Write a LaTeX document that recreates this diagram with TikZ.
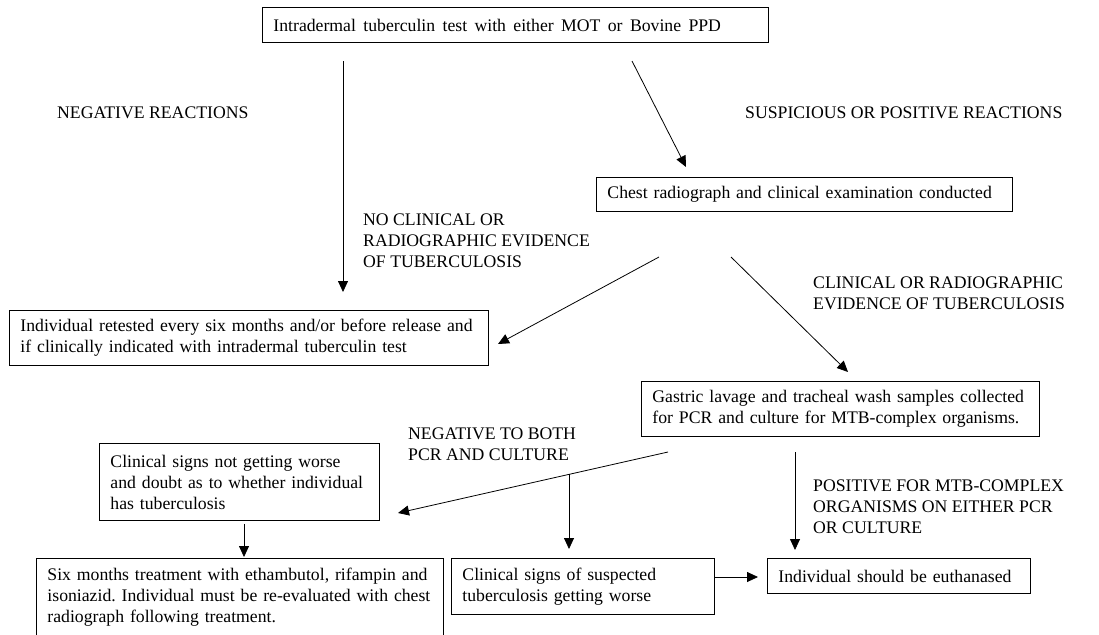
\documentclass[tikz,border=0pt]{standalone}
\usepackage{fontspec}
\setmainfont{Liberation Serif}
\usepackage{tikz}
\usetikzlibrary{arrows.meta,positioning}
\frenchspacing

\begin{document}
\begin{tikzpicture}[x=1pt, y=-1pt,
    every node/.style={font=\fontsize{17.7}{21}\selectfont},
    stepbox/.style={draw, line width=0.9pt, rectangle, anchor=north west, align=left, inner xsep=11pt, inner ysep=3pt},
    caption/.style={anchor=west, align=left, inner sep=0pt},
    flow/.style={-{Triangle[length=11pt,width=10pt]}, line width=0.8pt}]
    \clip (0,0) rectangle (1099,634);
    \fill[white] (0,0) rectangle (1099,634);

    % boxes
    \node[stepbox, text width=484pt, minimum height=35pt] (test) at (262,7) {\spaceskip=7.4pt Intradermal tuberculin test with either MOT or Bovine PPD};
    \node[stepbox, text width=394pt, minimum height=34pt] (chest) at (596,177) {Chest radiograph and clinical examination conducted};
    \node[stepbox, text width=457pt, minimum height=55pt] (retest) at (9,310) {Individual retested every six months and/or before release and\\if clinically indicated with intradermal tuberculin test};
    \node[stepbox, text width=376pt, minimum height=55pt] (gastric) at (641,381) {Gastric lavage and tracheal wash samples collected\\for PCR and culture for MTB-complex organisms.};
    \node[stepbox, text width=258pt, minimum height=77pt] (doubt) at (99,443) {Clinical signs not getting worse\\and doubt as to whether individual\\has tuberculosis};
    \node[stepbox, text width=385pt, minimum height=77pt] (treat) at (36,558) {Six months treatment with ethambutol, rifampin and\\isoniazid. Individual must be re-evaluated with chest\\radiograph following treatment.};
    \node[stepbox, text width=241pt, minimum height=56pt] (worse) at (451,558) {Clinical signs of suspected\\tuberculosis getting worse};
    \node[stepbox, text width=241pt, minimum height=35pt] (euth) at (767,558) {Individual should be euthanased};

    % labels
    \node[caption] (neg) at (57,113) {NEGATIVE REACTIONS};
    \node[caption] (susp) at (745,113) {SUSPICIOUS OR POSITIVE REACTIONS};
    \node[caption] (noev) at (363,241) {NO CLINICAL OR\\RADIOGRAPHIC EVIDENCE\\OF TUBERCULOSIS};
    \node[caption] (ev) at (813,293) {CLINICAL OR RADIOGRAPHIC\\EVIDENCE OF TUBERCULOSIS};
    \node[caption] (negboth) at (408,444) {NEGATIVE TO BOTH\\PCR AND CULTURE};
    \node[caption] (posmtb) at (813,507) {POSITIVE FOR MTB-COMPLEX\\ORGANISMS ON EITHER PCR\\OR CULTURE};

    % arrow ends
    \coordinate (negS) at (343,61);
    \coordinate (negE) at (343,292);
    \coordinate (suspS) at (632,61);
    \coordinate (suspE) at (686,167);
    \coordinate (noevS) at (659,257);
    \coordinate (noevE) at (498,344);
    \coordinate (evS) at (731,257);
    \coordinate (evE) at (848,372);
    \coordinate (negbS) at (668,452);
    \coordinate (negbE) at (398,513);
    \coordinate (split) at (569,474);
    \coordinate (splitE) at (569,549);
    \coordinate (doubtE) at (244,557);
    \coordinate (posS) at (795,452);
    \coordinate (posE) at (795,550);
    \coordinate (euthE) at (758,577);

    \draw[flow] (negS) -- (negE);
    \draw[flow] (suspS) -- (suspE);
    \draw[flow] (noevS) -- (noevE);
    \draw[flow] (evS) -- (evE);
    \draw[flow] (negbS) -- (negbE);
    \draw[flow] (split) -- (splitE);
    \draw[flow] (doubt.south -| doubtE) ++(0,3) -- (doubtE);
    \draw[flow] (posS) -- (posE);
    \draw[flow] (worse.east |- euthE) -- (euthE);
\end{tikzpicture}
\end{document}
